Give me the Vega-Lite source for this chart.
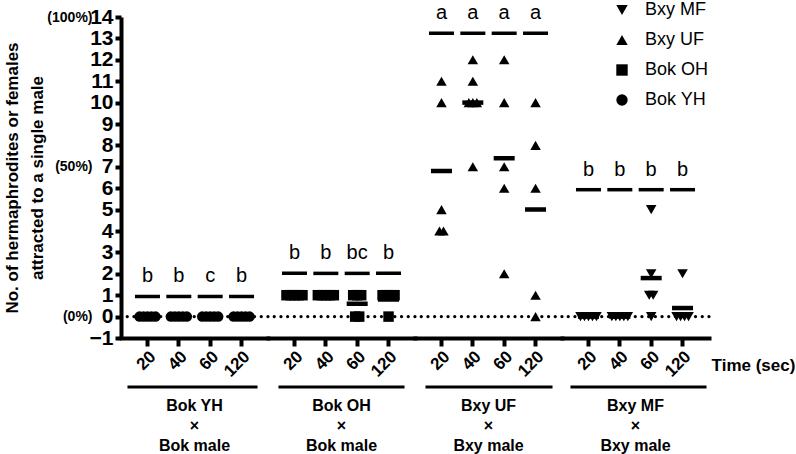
{
  "$schema": "https://vega.github.io/schema/vega-lite/v6.json",
  "background": "white",
  "padding": {"left": 3, "top": 1, "right": 0, "bottom": 4},
  "spacing": 0,
  "bounds": "flush",
  "datasets": {
    "pts": [
      {"g": "Bok YH", "t": "20", "v": 0}, {"g": "Bok YH", "t": "20", "v": 0}, {"g": "Bok YH", "t": "20", "v": 0}, {"g": "Bok YH", "t": "20", "v": 0}, {"g": "Bok YH", "t": "20", "v": 0},
      {"g": "Bok YH", "t": "40", "v": 0}, {"g": "Bok YH", "t": "40", "v": 0}, {"g": "Bok YH", "t": "40", "v": 0}, {"g": "Bok YH", "t": "40", "v": 0}, {"g": "Bok YH", "t": "40", "v": 0},
      {"g": "Bok YH", "t": "60", "v": 0}, {"g": "Bok YH", "t": "60", "v": 0}, {"g": "Bok YH", "t": "60", "v": 0}, {"g": "Bok YH", "t": "60", "v": 0}, {"g": "Bok YH", "t": "60", "v": 0},
      {"g": "Bok YH", "t": "120", "v": 0}, {"g": "Bok YH", "t": "120", "v": 0}, {"g": "Bok YH", "t": "120", "v": 0}, {"g": "Bok YH", "t": "120", "v": 0}, {"g": "Bok YH", "t": "120", "v": 0},
      {"g": "Bok OH", "t": "20", "v": 1}, {"g": "Bok OH", "t": "20", "v": 1}, {"g": "Bok OH", "t": "20", "v": 1}, {"g": "Bok OH", "t": "20", "v": 1}, {"g": "Bok OH", "t": "20", "v": 1},
      {"g": "Bok OH", "t": "40", "v": 1}, {"g": "Bok OH", "t": "40", "v": 1}, {"g": "Bok OH", "t": "40", "v": 1}, {"g": "Bok OH", "t": "40", "v": 1}, {"g": "Bok OH", "t": "40", "v": 1},
      {"g": "Bok OH", "t": "60", "v": 1}, {"g": "Bok OH", "t": "60", "v": 1}, {"g": "Bok OH", "t": "60", "v": 1}, {"g": "Bok OH", "t": "60", "v": 0}, {"g": "Bok OH", "t": "60", "v": 0},
      {"g": "Bok OH", "t": "120", "v": 1}, {"g": "Bok OH", "t": "120", "v": 1}, {"g": "Bok OH", "t": "120", "v": 1}, {"g": "Bok OH", "t": "120", "v": 1}, {"g": "Bok OH", "t": "120", "v": 0},
      {"g": "Bxy UF", "t": "20", "v": 11}, {"g": "Bxy UF", "t": "20", "v": 10}, {"g": "Bxy UF", "t": "20", "v": 5}, {"g": "Bxy UF", "t": "20", "v": 4}, {"g": "Bxy UF", "t": "20", "v": 4},
      {"g": "Bxy UF", "t": "40", "v": 12}, {"g": "Bxy UF", "t": "40", "v": 11}, {"g": "Bxy UF", "t": "40", "v": 10}, {"g": "Bxy UF", "t": "40", "v": 10}, {"g": "Bxy UF", "t": "40", "v": 10}, {"g": "Bxy UF", "t": "40", "v": 7},
      {"g": "Bxy UF", "t": "60", "v": 12}, {"g": "Bxy UF", "t": "60", "v": 10}, {"g": "Bxy UF", "t": "60", "v": 7}, {"g": "Bxy UF", "t": "60", "v": 6}, {"g": "Bxy UF", "t": "60", "v": 2},
      {"g": "Bxy UF", "t": "120", "v": 10}, {"g": "Bxy UF", "t": "120", "v": 8}, {"g": "Bxy UF", "t": "120", "v": 6}, {"g": "Bxy UF", "t": "120", "v": 1}, {"g": "Bxy UF", "t": "120", "v": 0},
      {"g": "Bxy MF", "t": "20", "v": 0}, {"g": "Bxy MF", "t": "20", "v": 0}, {"g": "Bxy MF", "t": "20", "v": 0}, {"g": "Bxy MF", "t": "20", "v": 0}, {"g": "Bxy MF", "t": "20", "v": 0},
      {"g": "Bxy MF", "t": "40", "v": 0}, {"g": "Bxy MF", "t": "40", "v": 0}, {"g": "Bxy MF", "t": "40", "v": 0}, {"g": "Bxy MF", "t": "40", "v": 0}, {"g": "Bxy MF", "t": "40", "v": 0},
      {"g": "Bxy MF", "t": "60", "v": 5}, {"g": "Bxy MF", "t": "60", "v": 2}, {"g": "Bxy MF", "t": "60", "v": 1}, {"g": "Bxy MF", "t": "60", "v": 1}, {"g": "Bxy MF", "t": "60", "v": 0},
      {"g": "Bxy MF", "t": "120", "v": 2}, {"g": "Bxy MF", "t": "120", "v": 0}, {"g": "Bxy MF", "t": "120", "v": 0}, {"g": "Bxy MF", "t": "120", "v": 0}, {"g": "Bxy MF", "t": "120", "v": 0}
    ],
    "sum": [
      {"g": "Bok YH", "t": "20", "top": 0.94, "let": "b"},
      {"g": "Bok YH", "t": "40", "top": 0.94, "let": "b"},
      {"g": "Bok YH", "t": "60", "top": 0.94, "let": "c"},
      {"g": "Bok YH", "t": "120", "top": 0.94, "let": "b"},
      {"g": "Bok OH", "t": "20", "top": 2.02, "let": "b"},
      {"g": "Bok OH", "t": "40", "top": 2.02, "let": "b"},
      {"g": "Bok OH", "t": "60", "top": 2.02, "let": "bc"},
      {"g": "Bok OH", "t": "120", "top": 2.02, "let": "b"},
      {"g": "Bxy UF", "t": "20", "top": 13.24, "let": "a"},
      {"g": "Bxy UF", "t": "40", "top": 13.24, "let": "a"},
      {"g": "Bxy UF", "t": "60", "top": 13.24, "let": "a"},
      {"g": "Bxy UF", "t": "120", "top": 13.24, "let": "a"},
      {"g": "Bxy MF", "t": "20", "top": 5.93, "let": "b"},
      {"g": "Bxy MF", "t": "40", "top": 5.93, "let": "b"},
      {"g": "Bxy MF", "t": "60", "top": 5.93, "let": "b"},
      {"g": "Bxy MF", "t": "120", "top": 5.93, "let": "b"}
    ]
  },
  "hconcat": [
    {
      "width": 147, "height": 321,
      "title": {"text": ["Bok YH", "×", "Bok male"]},
      "resolve": {"axis": {"y": "independent"}},
      "layer": [
        {"data": {"values": [{}]}, "mark": {"type": "rule", "strokeDash": [0.1, 6.6], "strokeCap": "round", "strokeWidth": 3.2, "color": "black"},
         "encoding": {"y": {"datum": 0, "type": "quantitative", "scale": {"domain": [-1, 14], "nice": false, "zero": false}, "axis": null}}},
        {"data": {"values": [{}]}, "mark": {"type": "rule", "strokeWidth": 3, "color": "black", "xOffset": -20, "x2Offset": 16},
         "encoding": {"x": {"datum": "20", "type": "ordinal", "scale": {"type": "band", "domain": ["20", "40", "60", "120"], "paddingInner": 0, "paddingOuter": 0.344}, "title": null},
                      "x2": {"datum": "120"},
                      "y": {"datum": -3.29, "type": "quantitative", "scale": {"domain": [-1, 14], "nice": false, "zero": false}, "axis": null}}},
        {"data": {"name": "sum"}, "transform": [{"filter": "datum.g == 'Bok YH'"}],
         "mark": {"type": "tick", "thickness": 3.5, "size": 25, "color": "black", "opacity": 1},
         "encoding": {"x": {"field": "t", "type": "ordinal", "scale": {"type": "band", "domain": ["20", "40", "60", "120"], "paddingInner": 0, "paddingOuter": 0.344}, "title": null},
                      "y": {"field": "top", "type": "quantitative", "scale": {"domain": [-1, 14], "nice": false, "zero": false},
                            "axis": {"orient": "left", "values": [-1, 0, 1, 2, 3, 4, 5, 6, 7, 8, 9, 10, 11, 12, 13, 14], "labelOverlap": false, "title": null, "labelFontSize": 21, "tickSize": 6, "labelPadding": 2, "domainWidth": 4, "tickWidth": 4, "labelBaseline": "middle"}}}},
        {"data": {"name": "sum"}, "transform": [{"filter": "datum.g == 'Bok YH'"}],
         "mark": {"type": "text", "fontSize": 20, "dy": -14, "baseline": "alphabetic", "color": "black"},
         "encoding": {"x": {"field": "t", "type": "ordinal", "scale": {"type": "band", "domain": ["20", "40", "60", "120"], "paddingInner": 0, "paddingOuter": 0.344}, "title": null},
                      "y": {"field": "top", "type": "quantitative", "scale": {"domain": [-1, 14], "nice": false, "zero": false}, "axis": null},
                      "text": {"field": "let"}}},
        {"data": {"name": "pts"}, "transform": [{"filter": "datum.g == 'Bok YH'"}],
         "mark": {"type": "tick", "thickness": 4.5, "size": 21, "color": "black", "opacity": 1},
         "encoding": {"x": {"field": "t", "type": "ordinal", "scale": {"type": "band", "domain": ["20", "40", "60", "120"], "paddingInner": 0, "paddingOuter": 0.344}, "title": null},
                      "y": {"aggregate": "mean", "field": "v", "type": "quantitative", "scale": {"domain": [-1, 14], "nice": false, "zero": false},
                            "axis": {"orient": "left", "offset": 29, "values": [0, 7, 14], "labelExpr": "datum.value == 14 ? '(100%)' : datum.value == 7 ? '(50%)' : '(0%)'", "labelFontSize": 14, "domain": false, "ticks": false, "labelPadding": 0, "labelOverlap": false, "labelBaseline": "middle",
                                     "title": ["No. of hermaphrodites or females", "attracted to a single male"], "titleFontSize": 17, "titleLineHeight": 25, "titlePadding": 0}}}},
        {"data": {"name": "pts"}, "transform": [{"filter": "datum.g == 'Bok YH'"},
           {"window": [{"op": "row_number", "as": "k"}, {"op": "count", "as": "n"}], "groupby": ["t", "v"], "frame": [null, null]},
           {"calculate": "datum.k - (datum.n + 1) / 2", "as": "off"}],
         "mark": {"type": "point", "filled": true, "size": 110, "color": "black", "opacity": 1},
         "encoding": {"x": {"field": "t", "type": "ordinal", "scale": {"type": "band", "domain": ["20", "40", "60", "120"], "paddingInner": 0, "paddingOuter": 0.344}, "title": null},
                      "xOffset": {"field": "off", "type": "quantitative", "scale": {"domain": [-1, 1], "range": [11.7, 19.7]}},
                      "y": {"field": "v", "type": "quantitative", "scale": {"domain": [-1, 14], "nice": false, "zero": false}, "axis": null},
                      "shape": {"field": "g", "type": "nominal", "scale": {"domain": ["Bxy MF", "Bxy UF", "Bok OH", "Bok YH"], "range": ["triangle-down", "triangle-up", "square", "circle"]}}}}
      ]
    },
    {
      "width": 147, "height": 321,
      "title": {"text": ["Bok OH", "×", "Bok male"]},
      "layer": [
        {"data": {"values": [{}]}, "mark": {"type": "rule", "strokeDash": [0.1, 6.6], "strokeCap": "round", "strokeWidth": 3.2, "color": "black"},
         "encoding": {"y": {"datum": 0, "type": "quantitative", "scale": {"domain": [-1, 14], "nice": false, "zero": false}, "axis": null}}},
        {"data": {"values": [{}]}, "mark": {"type": "rule", "strokeWidth": 3, "color": "black", "xOffset": -16, "x2Offset": 16},
         "encoding": {"x": {"datum": "20", "type": "ordinal", "scale": {"type": "band", "domain": ["20", "40", "60", "120"], "paddingInner": 0, "paddingOuter": 0.344}, "title": null},
                      "x2": {"datum": "120"},
                      "y": {"datum": -3.29, "type": "quantitative", "scale": {"domain": [-1, 14], "nice": false, "zero": false}, "axis": null}}},
        {"data": {"name": "sum"}, "transform": [{"filter": "datum.g == 'Bok OH'"}],
         "mark": {"type": "tick", "thickness": 3.5, "size": 25, "color": "black", "opacity": 1},
         "encoding": {"x": {"field": "t", "type": "ordinal", "scale": {"type": "band", "domain": ["20", "40", "60", "120"], "paddingInner": 0, "paddingOuter": 0.344}, "title": null},
                      "y": {"field": "top", "type": "quantitative", "scale": {"domain": [-1, 14], "nice": false, "zero": false}, "axis": null}}},
        {"data": {"name": "sum"}, "transform": [{"filter": "datum.g == 'Bok OH'"}],
         "mark": {"type": "text", "fontSize": 20, "dy": -14, "baseline": "alphabetic", "color": "black"},
         "encoding": {"x": {"field": "t", "type": "ordinal", "scale": {"type": "band", "domain": ["20", "40", "60", "120"], "paddingInner": 0, "paddingOuter": 0.344}, "title": null},
                      "y": {"field": "top", "type": "quantitative", "scale": {"domain": [-1, 14], "nice": false, "zero": false}, "axis": null},
                      "text": {"field": "let"}}},
        {"data": {"name": "pts"}, "transform": [{"filter": "datum.g == 'Bok OH'"}],
         "mark": {"type": "tick", "thickness": 4.5, "size": 21, "color": "black", "opacity": 1},
         "encoding": {"x": {"field": "t", "type": "ordinal", "scale": {"type": "band", "domain": ["20", "40", "60", "120"], "paddingInner": 0, "paddingOuter": 0.344}, "title": null},
                      "y": {"aggregate": "mean", "field": "v", "type": "quantitative", "scale": {"domain": [-1, 14], "nice": false, "zero": false}, "axis": null}}},
        {"data": {"name": "pts"}, "transform": [{"filter": "datum.g == 'Bok OH'"},
           {"window": [{"op": "row_number", "as": "k"}, {"op": "count", "as": "n"}], "groupby": ["t", "v"], "frame": [null, null]},
           {"calculate": "datum.k - (datum.n + 1) / 2", "as": "off"}],
         "mark": {"type": "point", "filled": true, "size": 110, "color": "black", "opacity": 1},
         "encoding": {"x": {"field": "t", "type": "ordinal", "scale": {"type": "band", "domain": ["20", "40", "60", "120"], "paddingInner": 0, "paddingOuter": 0.344}, "title": null},
                      "xOffset": {"field": "off", "type": "quantitative", "scale": {"domain": [-1, 1], "range": [11.7, 19.7]}},
                      "y": {"field": "v", "type": "quantitative", "scale": {"domain": [-1, 14], "nice": false, "zero": false}, "axis": null},
                      "shape": {"field": "g", "type": "nominal", "scale": {"domain": ["Bxy MF", "Bxy UF", "Bok OH", "Bok YH"], "range": ["triangle-down", "triangle-up", "square", "circle"]}}}}
      ]
    },
    {
      "width": 147, "height": 321,
      "title": {"text": ["Bxy UF", "×", "Bxy male"]},
      "layer": [
        {"data": {"values": [{}]}, "mark": {"type": "rule", "strokeDash": [0.1, 6.6], "strokeCap": "round", "strokeWidth": 3.2, "color": "black"},
         "encoding": {"y": {"datum": 0, "type": "quantitative", "scale": {"domain": [-1, 14], "nice": false, "zero": false}, "axis": null}}},
        {"data": {"values": [{}]}, "mark": {"type": "rule", "strokeWidth": 3, "color": "black", "xOffset": -16, "x2Offset": 17},
         "encoding": {"x": {"datum": "20", "type": "ordinal", "scale": {"type": "band", "domain": ["20", "40", "60", "120"], "paddingInner": 0, "paddingOuter": 0.344}, "title": null},
                      "x2": {"datum": "120"},
                      "y": {"datum": -3.29, "type": "quantitative", "scale": {"domain": [-1, 14], "nice": false, "zero": false}, "axis": null}}},
        {"data": {"name": "sum"}, "transform": [{"filter": "datum.g == 'Bxy UF'"}],
         "mark": {"type": "tick", "thickness": 3.5, "size": 25, "color": "black", "opacity": 1},
         "encoding": {"x": {"field": "t", "type": "ordinal", "scale": {"type": "band", "domain": ["20", "40", "60", "120"], "paddingInner": 0, "paddingOuter": 0.344}, "title": null},
                      "y": {"field": "top", "type": "quantitative", "scale": {"domain": [-1, 14], "nice": false, "zero": false}, "axis": null}}},
        {"data": {"name": "sum"}, "transform": [{"filter": "datum.g == 'Bxy UF'"}],
         "mark": {"type": "text", "fontSize": 20, "dy": -14, "baseline": "alphabetic", "color": "black"},
         "encoding": {"x": {"field": "t", "type": "ordinal", "scale": {"type": "band", "domain": ["20", "40", "60", "120"], "paddingInner": 0, "paddingOuter": 0.344}, "title": null},
                      "y": {"field": "top", "type": "quantitative", "scale": {"domain": [-1, 14], "nice": false, "zero": false}, "axis": null},
                      "text": {"field": "let"}}},
        {"data": {"name": "pts"}, "transform": [{"filter": "datum.g == 'Bxy UF'"}],
         "mark": {"type": "tick", "thickness": 4.5, "size": 21, "color": "black", "opacity": 1},
         "encoding": {"x": {"field": "t", "type": "ordinal", "scale": {"type": "band", "domain": ["20", "40", "60", "120"], "paddingInner": 0, "paddingOuter": 0.344}, "title": null},
                      "y": {"aggregate": "mean", "field": "v", "type": "quantitative", "scale": {"domain": [-1, 14], "nice": false, "zero": false}, "axis": null}}},
        {"data": {"name": "pts"}, "transform": [{"filter": "datum.g == 'Bxy UF'"},
           {"window": [{"op": "row_number", "as": "k"}, {"op": "count", "as": "n"}], "groupby": ["t", "v"], "frame": [null, null]},
           {"calculate": "datum.k - (datum.n + 1) / 2", "as": "off"}],
         "mark": {"type": "point", "filled": true, "size": 110, "color": "black", "opacity": 1},
         "encoding": {"x": {"field": "t", "type": "ordinal", "scale": {"type": "band", "domain": ["20", "40", "60", "120"], "paddingInner": 0, "paddingOuter": 0.344}, "title": null},
                      "xOffset": {"field": "off", "type": "quantitative", "scale": {"domain": [-1, 1], "range": [11.7, 19.7]}},
                      "y": {"field": "v", "type": "quantitative", "scale": {"domain": [-1, 14], "nice": false, "zero": false}, "axis": null},
                      "shape": {"field": "g", "type": "nominal", "scale": {"domain": ["Bxy MF", "Bxy UF", "Bok OH", "Bok YH"], "range": ["triangle-down", "triangle-up", "square", "circle"]}}}}
      ]
    },
    {
      "width": 147, "height": 321,
      "title": {"text": ["Bxy MF", "×", "Bxy male"]},
      "layer": [
        {"data": {"values": [{}]}, "mark": {"type": "rule", "strokeDash": [0.1, 6.6], "strokeCap": "round", "strokeWidth": 3.2, "color": "black"},
         "encoding": {"y": {"datum": 0, "type": "quantitative", "scale": {"domain": [-1, 14], "nice": false, "zero": false}, "axis": null}}},
        {"data": {"values": [{}]}, "mark": {"type": "rule", "strokeWidth": 3, "color": "black", "xOffset": -18, "x2Offset": 24},
         "encoding": {"x": {"datum": "20", "type": "ordinal", "scale": {"type": "band", "domain": ["20", "40", "60", "120"], "paddingInner": 0, "paddingOuter": 0.344}, "title": "Time (sec)"},
                      "x2": {"datum": "120"},
                      "y": {"datum": -3.29, "type": "quantitative", "scale": {"domain": [-1, 14], "nice": false, "zero": false}, "axis": null}}},
        {"data": {"name": "sum"}, "transform": [{"filter": "datum.g == 'Bxy MF'"}],
         "mark": {"type": "tick", "thickness": 3.5, "size": 25, "color": "black", "opacity": 1},
         "encoding": {"x": {"field": "t", "type": "ordinal", "scale": {"type": "band", "domain": ["20", "40", "60", "120"], "paddingInner": 0, "paddingOuter": 0.344}, "title": "Time (sec)",
                            "axis": {"titleX": 191, "titleY": 27, "titleAlign": "center", "titleBaseline": "middle", "titleFontSize": 17}},
                      "y": {"field": "top", "type": "quantitative", "scale": {"domain": [-1, 14], "nice": false, "zero": false}, "axis": null}}},
        {"data": {"name": "sum"}, "transform": [{"filter": "datum.g == 'Bxy MF'"}],
         "mark": {"type": "text", "fontSize": 20, "dy": -14, "baseline": "alphabetic", "color": "black"},
         "encoding": {"x": {"field": "t", "type": "ordinal", "scale": {"type": "band", "domain": ["20", "40", "60", "120"], "paddingInner": 0, "paddingOuter": 0.344}, "title": "Time (sec)"},
                      "y": {"field": "top", "type": "quantitative", "scale": {"domain": [-1, 14], "nice": false, "zero": false}, "axis": null},
                      "text": {"field": "let"}}},
        {"data": {"name": "pts"}, "transform": [{"filter": "datum.g == 'Bxy MF'"}],
         "mark": {"type": "tick", "thickness": 4.5, "size": 21, "color": "black", "opacity": 1},
         "encoding": {"x": {"field": "t", "type": "ordinal", "scale": {"type": "band", "domain": ["20", "40", "60", "120"], "paddingInner": 0, "paddingOuter": 0.344}, "title": "Time (sec)"},
                      "y": {"aggregate": "mean", "field": "v", "type": "quantitative", "scale": {"domain": [-1, 14], "nice": false, "zero": false}, "axis": null}}},
        {"data": {"name": "pts"}, "transform": [{"filter": "datum.g == 'Bxy MF'"},
           {"window": [{"op": "row_number", "as": "k"}, {"op": "count", "as": "n"}], "groupby": ["t", "v"], "frame": [null, null]},
           {"calculate": "datum.k - (datum.n + 1) / 2", "as": "off"}],
         "mark": {"type": "point", "filled": true, "size": 110, "color": "black", "opacity": 1},
         "encoding": {"x": {"field": "t", "type": "ordinal", "scale": {"type": "band", "domain": ["20", "40", "60", "120"], "paddingInner": 0, "paddingOuter": 0.344}, "title": "Time (sec)"},
                      "xOffset": {"field": "off", "type": "quantitative", "scale": {"domain": [-1, 1], "range": [11.7, 19.7]}},
                      "y": {"field": "v", "type": "quantitative", "scale": {"domain": [-1, 14], "nice": false, "zero": false}, "axis": null},
                      "shape": {"field": "g", "type": "nominal", "scale": {"domain": ["Bxy MF", "Bxy UF", "Bok OH", "Bok YH"], "range": ["triangle-down", "triangle-up", "square", "circle"]},
                                "legend": {"orient": "none", "legendX": 492, "legendY": -16}}}}
      ]
    }
  ],
  "config": {
    "font": "Liberation Sans",
    "view": {"stroke": null},
    "axis": {"grid": false, "domainColor": "black", "tickColor": "black", "labelColor": "black", "titleColor": "black", "labelFontWeight": "bold", "titleFontWeight": "bold", "domainWidth": 4, "tickWidth": 4},
    "axisX": {"labelAngle": -45, "labelFontSize": 17, "tickSize": 8, "labelPadding": 2, "domainCap": "square"},
    "title": {"orient": "bottom", "fontSize": 16, "fontWeight": "bold", "lineHeight": 20, "offset": 9, "color": "black", "anchor": "middle"},
    "legend": {"title": null, "labelFontSize": 18, "symbolSize": 130, "rowPadding": 12, "labelOffset": 14, "labelColor": "black", "symbolFillColor": "black", "symbolStrokeColor": "black"}
  }
}
